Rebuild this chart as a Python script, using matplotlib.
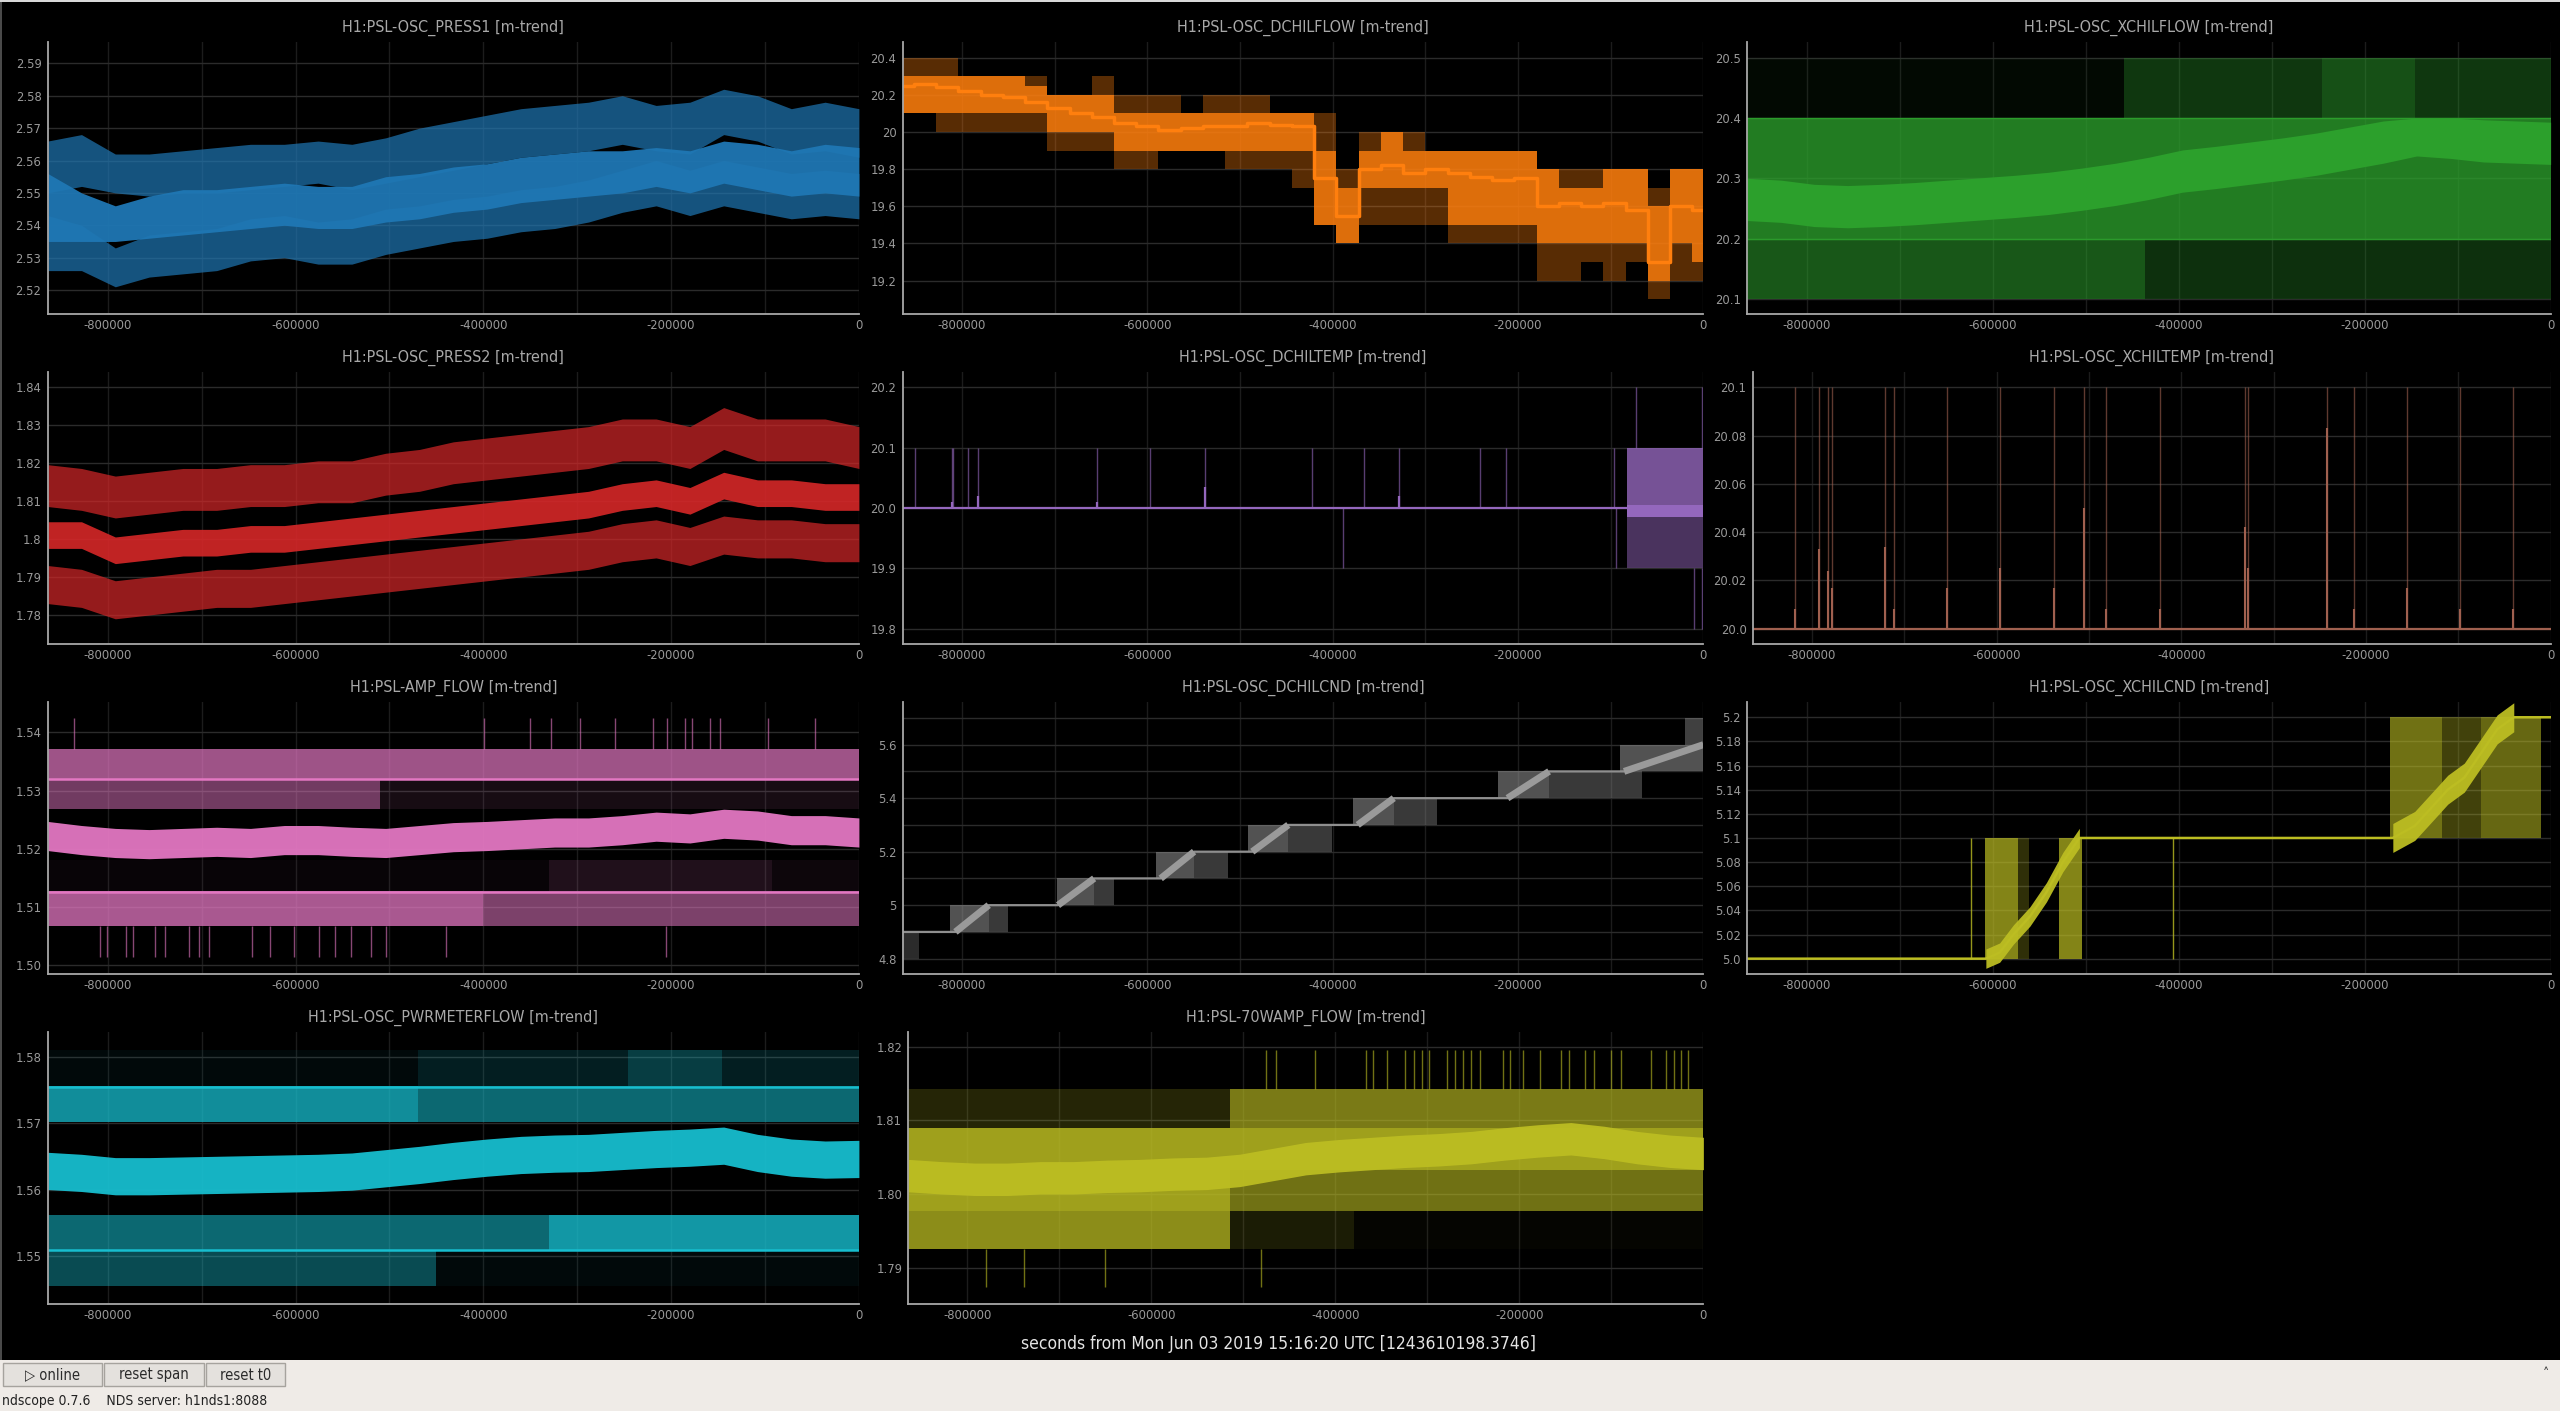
import numpy as np
import matplotlib
matplotlib.use("Agg")
import matplotlib.pyplot as plt
from matplotlib import font_manager as fm
from matplotlib.patches import Rectangle

# ------------------------------------------------------------------ data
T25 = [-864000, -828000, -792000, -756000, -720000, -684000, -648000, -612000,
       -576000, -540000, -504000, -468000, -432000, -396000, -360000, -324000,
       -288000, -252000, -216000, -180000, -144000, -108000, -72000, -36000, 0]
T37 = [-864000, -840000, -816000, -792000, -768000, -744000, -720000, -696000,
       -672000, -648000, -624000, -600000, -576000, -552000, -528000, -504000,
       -480000, -456000, -432000, -408000, -384000, -360000, -336000, -312000,
       -288000, -264000, -240000, -216000, -192000, -168000, -144000, -120000,
       -96000, -72000, -48000, -24000, 0]

x_major = [-800000, -600000, -400000, -200000, 0]
x_major_labels = ["-800000", "-600000", "-400000", "-200000", "0"]
x_minor = [-700000, -500000, -300000, -100000]

titles = ["H1:PSL-OSC_PRESS1 [m-trend]", "H1:PSL-OSC_DCHILFLOW [m-trend]",
          "H1:PSL-OSC_XCHILFLOW [m-trend]", "H1:PSL-OSC_PRESS2 [m-trend]",
          "H1:PSL-OSC_DCHILTEMP [m-trend]", "H1:PSL-OSC_XCHILTEMP [m-trend]",
          "H1:PSL-AMP_FLOW [m-trend]", "H1:PSL-OSC_DCHILCND [m-trend]",
          "H1:PSL-OSC_XCHILCND [m-trend]", "H1:PSL-OSC_PWRMETERFLOW [m-trend]",
          "H1:PSL-70WAMP_FLOW [m-trend]"]

# PRESS1 (max / mean / min envelopes)
p1_max_hi = [2.566,2.568,2.562,2.562,2.563,2.564,2.565,2.565,2.566,2.565,2.567,2.570,2.572,2.574,2.576,2.577,2.578,2.580,2.577,2.578,2.582,2.580,2.576,2.578,2.576]
p1_max_lo = [2.550,2.552,2.550,2.549,2.550,2.550,2.551,2.552,2.553,2.551,2.553,2.555,2.557,2.559,2.561,2.562,2.563,2.565,2.563,2.562,2.568,2.566,2.562,2.563,2.561]
p1_mean_hi = [2.556,2.550,2.546,2.549,2.551,2.551,2.552,2.553,2.552,2.552,2.555,2.556,2.558,2.559,2.561,2.562,2.563,2.563,2.564,2.563,2.566,2.565,2.563,2.565,2.564]
p1_mean_lo = [2.535,2.535,2.535,2.536,2.537,2.538,2.539,2.540,2.539,2.539,2.541,2.542,2.544,2.545,2.547,2.548,2.549,2.550,2.552,2.550,2.553,2.551,2.549,2.550,2.549]
p1_min_hi = [2.543,2.540,2.533,2.537,2.538,2.539,2.542,2.543,2.541,2.542,2.545,2.546,2.548,2.549,2.551,2.552,2.554,2.557,2.560,2.557,2.560,2.558,2.556,2.557,2.556]
p1_min_lo = [2.526,2.526,2.521,2.524,2.525,2.526,2.529,2.530,2.528,2.528,2.531,2.533,2.535,2.536,2.538,2.539,2.541,2.544,2.546,2.543,2.546,2.544,2.542,2.543,2.542]

# PRESS2
p2_max_hi = [1.8195,1.8185,1.8165,1.8175,1.8185,1.8185,1.8195,1.8195,1.8205,1.8205,1.8225,1.8235,1.8255,1.8265,1.8275,1.8285,1.8295,1.8315,1.8315,1.8295,1.8345,1.8315,1.8315,1.8315,1.8295]
p2_max_lo = [1.8085,1.8075,1.8055,1.8065,1.8075,1.8075,1.8085,1.8085,1.8095,1.8095,1.8115,1.8125,1.8145,1.8155,1.8165,1.8175,1.8185,1.8205,1.8205,1.8185,1.8235,1.8205,1.8205,1.8205,1.8185]
p2_mean_hi = [1.8045,1.8045,1.8005,1.8015,1.8025,1.8025,1.8035,1.8035,1.8045,1.8055,1.8065,1.8075,1.8085,1.8095,1.8105,1.8115,1.8125,1.8145,1.8155,1.8135,1.8175,1.8155,1.8155,1.8145,1.8145]
p2_mean_lo = [1.7975,1.7975,1.7935,1.7945,1.7955,1.7955,1.7965,1.7965,1.7975,1.7985,1.7995,1.8005,1.8015,1.8025,1.8035,1.8045,1.8055,1.8075,1.8085,1.8065,1.8105,1.8085,1.8085,1.8075,1.8075]
p2_min_hi = [1.793,1.792,1.789,1.790,1.791,1.792,1.792,1.793,1.794,1.795,1.796,1.797,1.798,1.799,1.800,1.801,1.802,1.804,1.805,1.803,1.806,1.805,1.805,1.804,1.804]
p2_min_lo = [1.783,1.782,1.779,1.780,1.781,1.782,1.782,1.783,1.784,1.785,1.786,1.787,1.788,1.789,1.790,1.791,1.792,1.794,1.795,1.793,1.796,1.795,1.795,1.794,1.794]

# DCHILFLOW (stepped, T37)
dflow_mean = [20.25,20.26,20.24,20.22,20.20,20.19,20.16,20.13,20.10,20.08,20.05,20.03,20.01,20.02,20.03,20.03,20.05,20.04,20.03,19.75,19.55,19.80,19.82,19.78,19.80,19.78,19.76,19.74,19.75,19.60,19.62,19.60,19.62,19.58,19.30,19.60,19.58]
dflow_dense_lo = [20.10,20.10,20.10,20.10,20.10,20.10,20.10,20.00,20.00,20.00,19.90,19.90,19.90,19.90,19.90,19.90,19.90,19.90,19.90,19.50,19.40,19.70,19.70,19.70,19.70,19.50,19.50,19.50,19.50,19.40,19.40,19.40,19.40,19.40,19.20,19.40,19.30]
dflow_dense_hi = [20.30,20.30,20.30,20.30,20.30,20.30,20.25,20.20,20.20,20.20,20.10,20.10,20.10,20.10,20.10,20.10,20.10,20.10,20.10,19.90,19.70,19.90,20.00,19.90,19.90,19.90,19.90,19.90,19.90,19.80,19.70,19.70,19.80,19.80,19.60,19.80,19.80]
dflow_sparse_lo = [20.10,20.10,20.00,20.00,20.00,20.00,20.00,19.90,19.90,19.90,19.80,19.80,19.90,19.90,19.90,19.80,19.80,19.80,19.70,19.50,19.40,19.50,19.50,19.50,19.50,19.40,19.40,19.40,19.40,19.20,19.20,19.30,19.20,19.30,19.10,19.20,19.20]
dflow_sparse_hi = [20.40,20.40,20.40,20.30,20.30,20.30,20.30,20.20,20.20,20.30,20.20,20.20,20.20,20.10,20.20,20.20,20.20,20.10,20.10,20.10,19.80,20.00,20.00,20.00,19.90,19.90,19.90,19.90,19.90,19.80,19.80,19.80,19.80,19.80,19.70,19.80,19.80]

# XCHILFLOW
xflow_mean_hi = [20.300,20.297,20.290,20.288,20.290,20.293,20.297,20.301,20.305,20.310,20.317,20.325,20.335,20.347,20.353,20.360,20.367,20.375,20.385,20.395,20.400,20.400,20.397,20.395,20.393]
xflow_mean_lo = [20.230,20.227,20.220,20.218,20.220,20.223,20.227,20.231,20.235,20.240,20.247,20.255,20.265,20.277,20.283,20.290,20.297,20.305,20.315,20.325,20.337,20.333,20.327,20.325,20.323]
xflow_band_lo = [20.4, 20.2, 20.1]
xflow_band_hi = [20.5, 20.4, 20.2]
xflow_band_edges = [[-864000, -459000, -246000, -146000, 0], [-864000, 0], [-864000, -436000, 0]]
xflow_band_dens = [[0.06, 0.35, 0.5, 0.35], [0.78], [0.55, 0.3]]

# DCHILTEMP
dtemp_spike_t = [-850700, -811300, -810100, -793300, -783200, -653800, -596900, -538300, -422700, -365800, -328100, -241300, -212600, -97000]
dtemp_spike_mean = [20.0, 20.01, 20.0, 20.0, 20.02, 20.01, 20.0, 20.035, 20.0, 20.0, 20.02, 20.0, 20.0, 20.0]
dtemp_dip_t = [-389400, -94000]
dtemp_block = [-82600, 0]
dtemp_tall_up_t = [-72400, -1200]
dtemp_tall_dn_t = [-10200, -1200]

# XCHILTEMP
xtemp_spike_t = [-818700, -792500, -782400, -778200, -721100, -711600, -653800, -596000, -538300, -504900, -481100, -423400, -331100, -328100, -242300, -212600, -155400, -97700, -40500]
xtemp_spike_mean = [20.008, 20.033, 20.024, 20.017, 20.034, 20.008, 20.017, 20.025, 20.017, 20.05, 20.008, 20.008, 20.042, 20.025, 20.083, 20.008, 20.017, 20.008, 20.008]

# AMP_FLOW
amp_mean_hi = [1.5247,1.5240,1.5235,1.5233,1.5235,1.5237,1.5235,1.5240,1.5240,1.5237,1.5235,1.5240,1.5245,1.5247,1.5250,1.5253,1.5253,1.5257,1.5263,1.5260,1.5268,1.5265,1.5257,1.5257,1.5253]
amp_mean_lo = [1.5197,1.5190,1.5185,1.5183,1.5185,1.5187,1.5185,1.5190,1.5190,1.5187,1.5185,1.5190,1.5195,1.5197,1.5200,1.5203,1.5203,1.5207,1.5213,1.5210,1.5218,1.5215,1.5207,1.5207,1.5203]
amp_band_lo = [1.5318, 1.5268, 1.5068, 1.5127]
amp_band_hi = [1.5372, 1.5318, 1.5127, 1.5180]
amp_band_edges = [[-864000, 0], [-864000, -510000, 0], [-864000, -400000, 0], [-864000, -330000, -93000, 0]]
amp_band_dens = [[0.7], [0.5, 0.1], [0.75, 0.55], [0.04, 0.14, 0.06]]
amp_levels = [1.5319, 1.5126]
amp_up_spikes = [-836200, -398900, -350400, -328000, -296700, -260000, -219800, -204500, -185600, -177300, -158400, -148300, -96300, -46700]
amp_dn_spikes = [-808400, -800800, -780100, -773000, -749300, -738700, -713900, -703300, -692000, -645900, -627000, -601600, -575000, -558500, -541300, -520000, -504100, -440300, -205700]

# DCHILCND
cnd_levels = [4.9, 5.0, 5.1, 5.2, 5.3, 5.4, 5.5, 5.6]
cnd_ramp_start = [-807100, -696400, -585600, -486800, -373000, -211400, -85600]
cnd_ramp_end = [-771200, -657400, -549600, -447900, -334100, -166500, 0]
cnd_hatch_start = [-813100, -697500, -590400, -491600, -377800, -221500, -89800]
cnd_hatch_end = [-750200, -635600, -512500, -401200, -287400, -65900, 0]

# XCHILCND
xcnd_mean_t = [-864000, -607400, -592600, -577800, -560000, -542300, -524600, -506800, -169700, -146100, -128300, -110600, -92800, -75100, -57400, -39600, 0]
xcnd_mean_v = [5.0, 5.0, 5.005, 5.02, 5.035, 5.055, 5.08, 5.1, 5.1, 5.11, 5.125, 5.14, 5.15, 5.17, 5.19, 5.2, 5.2]
xcnd_hatch_t0 = [-608600, -573100, -528700, -172700, -116500, -75100]
xcnd_hatch_t1 = [-573100, -561000, -503900, -116500, -75100, -10100]
xcnd_hatch_lo = [5.0, 5.0, 5.0, 5.1, 5.1, 5.1]
xcnd_hatch_hi = [5.1, 5.1, 5.1, 5.2, 5.2, 5.2]
xcnd_hatch_d = [0.7, 0.25, 0.7, 0.6, 0.35, 0.55]
xcnd_single_t = [-623300, -406300]

# PWRMETERFLOW
pwr_mean_hi = [1.5656,1.5653,1.5648,1.5648,1.5649,1.5650,1.5651,1.5652,1.5653,1.5655,1.5660,1.5665,1.5671,1.5676,1.5680,1.5682,1.5683,1.5686,1.5689,1.5691,1.5694,1.5683,1.5676,1.5673,1.5674]
pwr_mean_lo = [1.5600,1.5597,1.5592,1.5592,1.5593,1.5594,1.5595,1.5596,1.5597,1.5599,1.5604,1.5609,1.5615,1.5620,1.5624,1.5626,1.5627,1.5630,1.5633,1.5635,1.5638,1.5627,1.5620,1.5617,1.5618]
pwr_band_lo = [1.5702, 1.5756, 1.5508, 1.5455]
pwr_band_hi = [1.5756, 1.5810, 1.5561, 1.5508]
pwr_band_edges = [[-864000, -470000, 0], [-864000, -470000, -246000, -146000, 0], [-864000, -330000, 0], [-864000, -450000, 0]]
pwr_band_dens = [[0.75, 0.55], [0.05, 0.16, 0.32, 0.16], [0.55, 0.8], [0.4, 0.05]]
pwr_levels = [1.5755, 1.5509]

# 70WAMP_FLOW
w70_mean_hi = [1.8047,1.8044,1.8042,1.8042,1.8044,1.8044,1.8046,1.8047,1.8049,1.8050,1.8054,1.8062,1.8070,1.8074,1.8077,1.8080,1.8082,1.8085,1.8090,1.8094,1.8097,1.8092,1.8085,1.8080,1.8077]
w70_mean_lo = [1.8003,1.8000,1.7998,1.7998,1.8000,1.8000,1.8002,1.8003,1.8005,1.8006,1.8010,1.8018,1.8026,1.8030,1.8033,1.8036,1.8038,1.8041,1.8046,1.8050,1.8053,1.8048,1.8041,1.8036,1.8033]
w70_band_lo = [1.8089, 1.8032, 1.7977, 1.7925]
w70_band_hi = [1.8143, 1.8089, 1.8032, 1.7977]
w70_band_edges = [[-864000, -514000, 0], [-864000, 0], [-864000, -514000, 0], [-864000, -514000, -380000, 0]]
w70_band_dens = [[0.2, 0.65], [0.85], [0.85, 0.6], [0.75, 0.15, 0.03]]
w70_up_spikes = [-475100, -464200, -422600, -366600, -359300, -343700, -324400, -314100, -306300, -298400, -279100, -270100, -261100, -252000, -243000, -217600, -209800, -195900, -177900, -154300, -146500, -128400, -119400, -100100, -89200, -56700, -41000, -32000, -24700, -16900]
w70_dn_spikes = [-780100, -738500, -650500, -481100]

# ------------------------------------------------------------------ style
W, H = 2560, 1411
C_BLUE, C_ORANGE, C_GREEN, C_RED = '#1f77b4', '#ff7f0e', '#2ca02c', '#d62728'
C_PURPLE, C_BROWN, C_PINK, C_GRAY = '#9467bd', '#a0604f', '#e377c2', '#8f8f8f'
C_OLIVE, C_CYAN = '#bcbd22', '#17becf'

COND_PATH = None
for f in fm.fontManager.ttflist:
    if f.fname.endswith('DejaVuSansCondensed.ttf'):
        COND_PATH = f.fname
        break
NARROW = None
if COND_PATH is None:
    names = {f.name for f in fm.fontManager.ttflist}
    NARROW = 'Liberation Sans Narrow' if 'Liberation Sans Narrow' in names else 'DejaVu Sans'


def fprop(size):
    if COND_PATH:
        return fm.FontProperties(fname=COND_PATH, size=size)
    return fm.FontProperties(family=NARROW, size=size)


fig = plt.figure(figsize=(W / 100, H / 100), dpi=100)
fig.patch.set_facecolor('#000000')

ROW_TOP = [42.3, 372.3, 702.3, 1032.3]
ROW_BOT = [314.0, 644.0, 974.0, 1304.0]


def make_ax(row, l, r, title, ylim, yticks, ylabels, yminor=None):
    ax = fig.add_axes([l / W, 1 - ROW_BOT[row] / H, (r - l) / W,
                       (ROW_BOT[row] - ROW_TOP[row]) / H])
    ax.set_facecolor('#000000')
    ax.set_xlim(-864000, 0)
    ax.set_ylim(*ylim)
    for s in ['top', 'right']:
        ax.spines[s].set_visible(False)
    for s in ['left', 'bottom']:
        ax.spines[s].set_color('#a8a8a8')
        ax.spines[s].set_linewidth(1.3)
    ax.set_xticks(x_major)
    ax.set_xticklabels(x_major_labels, fontproperties=fprop(9.3))
    ax.set_xticks(x_minor, minor=True)
    ax.set_yticks(yticks)
    ax.set_yticklabels(ylabels, fontproperties=fprop(9.3))
    if yminor:
        ax.set_yticks(yminor, minor=True)
    ax.tick_params(which='both', length=0, labelcolor='#9a9a9a')
    ax.tick_params(axis='x', pad=3.5)
    ax.tick_params(axis='y', pad=4.5)
    ax.grid(True, axis='y', which='both', color='#2b2b2b', lw=1.0)
    ax.grid(True, axis='x', which='both', color='#1c1c1c', lw=1.0)
    ax.set_axisbelow(True)
    ax.set_title(title, color='#a8a8a8', fontproperties=fprop(11.5), pad=7.5)
    return ax


def band(ax, t, lo, hi, color, alpha, step=None):
    ax.fill_between(t, lo, hi, color=color, alpha=alpha, lw=0, step=step)


def qbands(ax, lo, hi, edges, dens, color):
    for k in range(len(lo)):
        e, d = edges[k], dens[k]
        for j in range(len(d)):
            ax.fill_between([e[j], e[j + 1]], lo[k], hi[k], color=color,
                            alpha=d[j], lw=0)


# ---------------------------------------------------------------- panels
L1, R1 = 47.7, 858.9
L2, R2 = 902.7, 1703.4
L3, R3 = 1747.3, 2550.6

# PRESS1
ax = make_ax(0, L1, R1, titles[0], (2.5126, 2.5965),
             [2.52, 2.53, 2.54, 2.55, 2.56, 2.57, 2.58, 2.59],
             ["2.52", "2.53", "2.54", "2.55", "2.56", "2.57", "2.58", "2.59"])
band(ax, T25, p1_max_lo, p1_max_hi, C_BLUE, 0.7)
band(ax, T25, p1_min_lo, p1_min_hi, C_BLUE, 0.7)
band(ax, T25, p1_mean_lo, p1_mean_hi, C_BLUE, 0.95)

# DCHILFLOW
ax = make_ax(0, L2, R2, titles[1], (19.0206, 20.4825),
             [19.2, 19.4, 19.6, 19.8, 20.0, 20.2, 20.4],
             ["19.2", "19.4", "19.6", "19.8", "20", "20.2", "20.4"])
band(ax, T37, dflow_sparse_lo, dflow_sparse_hi, C_ORANGE, 0.35, step='mid')
band(ax, T37, dflow_dense_lo, dflow_dense_hi, C_ORANGE, 0.8, step='mid')
ax.plot(T37, dflow_mean, color=C_ORANGE, lw=2.5, drawstyle='steps-mid')

# XCHILFLOW
ax = make_ax(0, L3, R3, titles[2], (20.0751, 20.5254),
             [20.1, 20.2, 20.3, 20.4, 20.5],
             ["20.1", "20.2", "20.3", "20.4", "20.5"])
qbands(ax, xflow_band_lo, xflow_band_hi, xflow_band_edges, xflow_band_dens, C_GREEN)
band(ax, T25, xflow_mean_lo, xflow_mean_hi, C_GREEN, 1.0)
ax.axhline(20.4, color=C_GREEN, lw=1.0, alpha=0.9)
ax.axhline(20.2, color=C_GREEN, lw=1.0, alpha=0.9)

# PRESS2
ax = make_ax(1, L1, R1, titles[3], (1.77238, 1.84377),
             [1.78, 1.79, 1.80, 1.81, 1.82, 1.83, 1.84],
             ["1.78", "1.79", "1.8", "1.81", "1.82", "1.83", "1.84"])
band(ax, T25, p2_max_lo, p2_max_hi, C_RED, 0.7)
band(ax, T25, p2_min_lo, p2_min_hi, C_RED, 0.7)
band(ax, T25, p2_mean_lo, p2_mean_hi, C_RED, 0.9)

# DCHILTEMP
ax = make_ax(1, L2, R2, titles[4], (19.7746, 20.2249),
             [19.8, 19.9, 20.0, 20.1, 20.2],
             ["19.8", "19.9", "20.0", "20.1", "20.2"])
ax.plot([-864000, dtemp_block[0]], [20.0, 20.0], color=C_PURPLE, lw=1.6)
ax.vlines(dtemp_spike_t, 20.0, 20.1, color=C_PURPLE, lw=1.0, alpha=0.6)
ax.vlines(dtemp_spike_t, 20.0, dtemp_spike_mean, color=C_PURPLE, lw=1.6)
ax.vlines(dtemp_dip_t, 19.9, 20.0, color=C_PURPLE, lw=1.0, alpha=0.6)
ax.fill_between(dtemp_block, 20.0, 20.1, color=C_PURPLE, alpha=0.8, lw=0)
ax.fill_between(dtemp_block, 19.9, 20.0, color=C_PURPLE, alpha=0.5, lw=0)
ax.fill_between(dtemp_block, 19.985, 20.005, color=C_PURPLE, alpha=1.0, lw=0)
ax.vlines(dtemp_tall_up_t, 20.1, 20.2, color=C_PURPLE, lw=1.0, alpha=0.6)
ax.vlines(dtemp_tall_dn_t, 19.8, 19.9, color=C_PURPLE, lw=1.0, alpha=0.6)

# XCHILTEMP
ax = make_ax(1, 1752.8, R3, titles[5], (19.99365, 20.1062),
             [20.0, 20.02, 20.04, 20.06, 20.08, 20.1],
             ["20.0", "20.02", "20.04", "20.06", "20.08", "20.1"])
ax.axhline(20.0, color=C_BROWN, lw=1.6)
ax.vlines(xtemp_spike_t, 20.0, 20.1, color=C_BROWN, lw=1.0, alpha=0.6)
ax.vlines(xtemp_spike_t, 20.0, xtemp_spike_mean, color=C_BROWN, lw=1.5)

# AMP_FLOW
ax = make_ax(2, L1, R1, titles[6], (1.49851, 1.54515),
             [1.50, 1.51, 1.52, 1.53, 1.54],
             ["1.50", "1.51", "1.52", "1.53", "1.54"])
qbands(ax, amp_band_lo, amp_band_hi, amp_band_edges, amp_band_dens, C_PINK)
ax.vlines(amp_up_spikes, 1.5372, 1.5425, color=C_PINK, lw=1.0, alpha=0.6)
ax.vlines(amp_dn_spikes, 1.5015, 1.5068, color=C_PINK, lw=1.0, alpha=0.6)
for lev in amp_levels:
    ax.axhline(lev, color=C_PINK, lw=1.8)
band(ax, T25, amp_mean_lo, amp_mean_hi, C_PINK, 0.95)

# DCHILCND
ax = make_ax(2, L2, R2, titles[7], (4.7427, 5.7583),
             [4.8, 5.0, 5.2, 5.4, 5.6],
             ["4.8", "5", "5.2", "5.4", "5.6"],
             yminor=[4.9, 5.1, 5.3, 5.5, 5.7])
for k in range(len(cnd_hatch_start)):
    ax.fill_between([cnd_hatch_start[k], cnd_hatch_end[k]], cnd_levels[k],
                    cnd_levels[k + 1], color=C_GRAY, alpha=0.4, lw=0)
    ax.fill_between([cnd_hatch_start[k], cnd_ramp_end[k]], cnd_levels[k],
                    cnd_levels[k + 1], color=C_GRAY, alpha=0.3, lw=0)
ax.fill_between([-864000, -846000], 4.8, 4.9, color=C_GRAY, alpha=0.3, lw=0)
ax.fill_between([-19800, 0], 5.6, 5.7, color=C_GRAY, alpha=0.45, lw=0)
cx, cy = [-864000], [cnd_levels[0]]
for k in range(len(cnd_ramp_start)):
    cx += [cnd_ramp_start[k], cnd_ramp_end[k]]
    cy += [cnd_levels[k], cnd_levels[k + 1]]
ax.plot(cx, cy, color=C_GRAY, lw=1.6)
for k in range(len(cnd_ramp_start)):
    ax.plot([cnd_ramp_start[k], cnd_ramp_end[k]], [cnd_levels[k], cnd_levels[k + 1]],
            color='#9a9a9a', lw=5, solid_capstyle='butt')

# XCHILCND
ax = make_ax(2, L3, R3, titles[8], (4.9873, 5.2124),
             [5.0, 5.02, 5.04, 5.06, 5.08, 5.1, 5.12, 5.14, 5.16, 5.18, 5.2],
             ["5.0", "5.02", "5.04", "5.06", "5.08", "5.1", "5.12", "5.14", "5.16", "5.18", "5.2"])
for k in range(len(xcnd_hatch_t0)):
    ax.fill_between([xcnd_hatch_t0[k], xcnd_hatch_t1[k]], xcnd_hatch_lo[k],
                    xcnd_hatch_hi[k], color=C_OLIVE, alpha=xcnd_hatch_d[k], lw=0)
ax.vlines(xcnd_single_t, 5.0, 5.1, color=C_OLIVE, lw=1.0, alpha=0.8)
ax.plot(xcnd_mean_t, xcnd_mean_v, color=C_OLIVE, lw=1.8)
ax.fill_between(xcnd_mean_t[1:8], np.array(xcnd_mean_v[1:8]) - 0.008,
                np.array(xcnd_mean_v[1:8]) + 0.008, color=C_OLIVE, alpha=0.95, lw=0)
ax.fill_between(xcnd_mean_t[8:16], np.array(xcnd_mean_v[8:16]) - 0.012,
                np.array(xcnd_mean_v[8:16]) + 0.012, color=C_OLIVE, alpha=0.95, lw=0)

# PWRMETERFLOW
ax = make_ax(3, L1, R1, titles[9], (1.54277, 1.58366),
             [1.55, 1.56, 1.57, 1.58],
             ["1.55", "1.56", "1.57", "1.58"])
qbands(ax, pwr_band_lo, pwr_band_hi, pwr_band_edges, pwr_band_dens, C_CYAN)
for lev in pwr_levels:
    ax.axhline(lev, color=C_CYAN, lw=1.8)
band(ax, T25, pwr_mean_lo, pwr_mean_hi, C_CYAN, 0.95)

# 70WAMP_FLOW
ax = make_ax(3, 908.3, R2, titles[10], (1.78507, 1.82195),
             [1.79, 1.80, 1.81, 1.82],
             ["1.79", "1.80", "1.81", "1.82"])
qbands(ax, w70_band_lo, w70_band_hi, w70_band_edges, w70_band_dens, C_OLIVE)
ax.vlines(w70_up_spikes, 1.8143, 1.8195, color=C_OLIVE, lw=1.0, alpha=0.6)
ax.vlines(w70_dn_spikes, 1.7874, 1.7925, color=C_OLIVE, lw=1.0, alpha=0.6)
band(ax, T25, w70_mean_lo, w70_mean_hi, C_OLIVE, 0.95)

# ------------------------------------------------------------ chrome
fig.text(1278.6 / W, 1 - 1343.6 / H,
         "seconds from Mon Jun 03 2019 15:16:20 UTC [1243610198.3746]",
         ha='center', va='center', color='#e4e4e4', fontproperties=fprop(12.5))

fig.add_artist(Rectangle((0, 0), 1, (H - 1360) / H, transform=fig.transFigure,
                         facecolor='#efebe7', edgecolor='none'))
fig.add_artist(Rectangle((0, 1 - 2 / H), 1, 2 / H, transform=fig.transFigure,
                         facecolor='#d8d8d8', edgecolor='none'))
fig.add_artist(Rectangle((0, (H - 1360) / H), 2 / W, 1358 / H, transform=fig.transFigure,
                         facecolor='#4a4a4a', edgecolor='none'))

buttons = [("\u25b7 online", 3, 102), ("reset span", 104, 204), ("reset t0", 206, 285)]
for label, x0, x1 in buttons:
    fig.add_artist(Rectangle((x0 / W, 1 - 1386 / H), (x1 - x0) / W, 23 / H,
                             transform=fig.transFigure, facecolor='#e4e1dd',
                             edgecolor='#a6a39e', lw=1.0))
    fig.text((x0 + x1) / 2 / W, 1 - 1375 / H, label, ha='center', va='center',
             color='#2a2a2a', fontproperties=fprop(10.5))

fig.text(2 / W, 1 - 1401 / H, "ndscope 0.7.6    NDS server: h1nds1:8088",
         ha='left', va='center', color='#222222', fontproperties=fprop(10))
fig.text(2546 / W, 1 - 1374 / H, "\u02c4", ha='center', va='center',
         color='#333333', fontproperties=fprop(10))

fig.savefig("out.png", dpi=100, facecolor=fig.get_facecolor())
